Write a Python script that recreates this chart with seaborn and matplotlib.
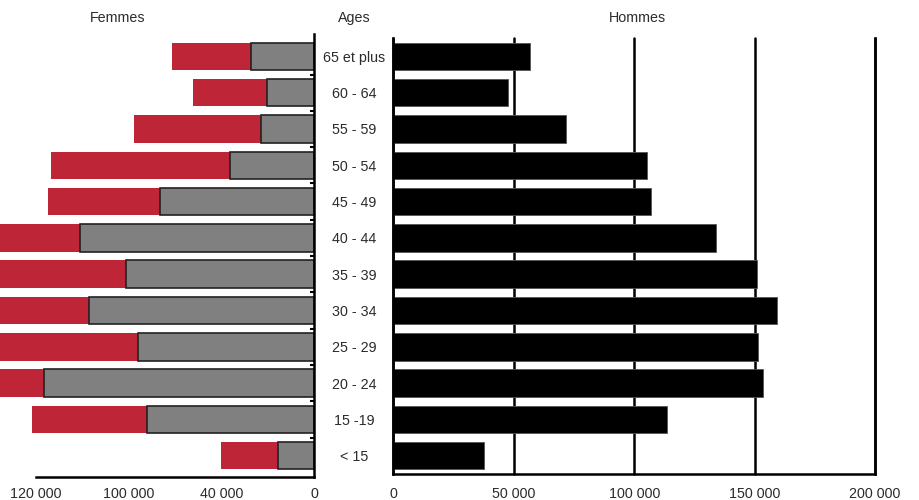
import matplotlib
matplotlib.use("Agg")
import matplotlib.pyplot as plt
import seaborn as sns
import pandas as pd
import numpy as np

ages = ["65 et plus", "60 - 64", "55 - 59", "50 - 54", "45 - 49", "40 - 44",
        "35 - 39", "30 - 34", "25 - 29", "20 - 24", "15 -19", "< 15"]
# Femmes: outer (red) total and inner (gray) part
femmes_total = [61100, 52000, 77600, 113400, 114700, 150000,
                145000, 148000, 146000, 140000, 121600, 40100]
femmes_part = [27000, 20300, 22700, 36200, 66400, 100900,
               81200, 97000, 76000, 116400, 71800, 15400]
hommes = [56700, 47500, 71500, 105300, 107000, 134100,
          151100, 159500, 151500, 153400, 113400, 37700]

fem_ticks = [0, 20000, 40000, 60000, 80000, 100000, 120000]
fem_ticklabels = ["0", "", "40 000", "", "100 000", "", "120 000"]
hom_ticks = [0, 50000, 100000, 150000, 200000]
hom_ticklabels = ["0", "50 000", "100 000", "150 000", "200 000"]

df = pd.DataFrame({"age": ages, "ftot": femmes_total, "fpart": femmes_part, "h": hommes})

sns.set_style("white")
plt.rcParams["font.family"] = ["Liberation Sans", "DejaVu Sans"]
TXT = "#2b2b2b"

W, H = 920, 500
fig = plt.figure(figsize=(W / 100, H / 100), dpi=100)

RED = "#BE2637"
GRAY = "#808080"

# ---------- Left (Femmes) ----------
l_top, l_bot = 34, 476.5
axL = fig.add_axes([0, (H - l_bot) / H, 314 / W, (l_bot - l_top) / H])
sns.barplot(data=df, y="age", x="ftot", order=ages, orient="h", color=RED,
            width=0.76, saturation=1, linewidth=0, ax=axL)
sns.barplot(data=df, y="age", x="fpart", order=ages, orient="h", color=GRAY,
            width=0.76, saturation=1, edgecolor="#222222", linewidth=1.2, ax=axL)
px_per = 46.4 / 20000
axL.set_xlim(314 / px_per, 0)
slot = 36.3
c0 = 56.4
axL.set_ylim(11 + (l_bot - (c0 + 11 * slot)) / slot, -(c0 - l_top) / slot)
for s in ["top", "left"]:
    axL.spines[s].set_visible(False)
axL.spines["right"].set_visible(True)
axL.spines["bottom"].set_bounds(0, 120000)
for s in ["right", "bottom"]:
    axL.spines[s].set_color("black")
    axL.spines[s].set_linewidth(1.8)
axL.yaxis.tick_right()
axL.set_yticks([])
axL.set_yticks(np.arange(0.5, 11, 1), minor=True)
axL.tick_params(axis="y", which="minor", direction="in", length=3, width=1.5, color="black")
axL.set_xticks(fem_ticks)
axL.set_xticklabels(fem_ticklabels)
axL.tick_params(axis="x", direction="in", length=9, width=1.6, color="black",
                pad=7.5, labelsize=10.3, labelcolor=TXT)
axL.set_xlabel("")
axL.set_ylabel("")

# ---------- Right (Hommes) ----------
r_top, r_bot = 38, 474
x0, x1 = 393.5, 875
axR = fig.add_axes([x0 / W, (H - r_bot) / H, (x1 - x0) / W, (r_bot - r_top) / H])
axR.set_axisbelow(True)
axR.grid(axis="x", color="black", linewidth=1.8)
axR.grid(axis="y", visible=False)
sns.barplot(data=df, y="age", x="h", order=ages, orient="h", color="black",
            width=0.76, saturation=1, edgecolor="#555555", linewidth=0.6, ax=axR)
axR.set_xlim(0, 200000)
axR.set_ylim(11 + (r_bot - (c0 + 11 * slot)) / slot, -(c0 - r_top) / slot)
for s in ["top"]:
    axR.spines[s].set_visible(False)
for s in ["left", "bottom", "right"]:
    axR.spines[s].set_color("black")
    axR.spines[s].set_linewidth(1.8)
axR.set_xticks(hom_ticks)
axR.set_xticklabels(hom_ticklabels)
for gl in axR.get_xgridlines():
    gl.set_clip_on(False)
axR.tick_params(axis="x", length=0, pad=9, labelsize=10.3, labelcolor=TXT)
axR.set_yticks(range(len(ages)))
axR.set_yticklabels(ages, ha="center")
axR.tick_params(axis="y", length=0, pad=28.4, labelsize=10.3, labelcolor=TXT)
axR.set_xlabel("")
axR.set_ylabel("")

fig.text(118 / W, 1 - 18 / H, "Femmes", ha="center", va="center", fontsize=10.3, color=TXT)
fig.text(354 / W, 1 - 18 / H, "Ages", ha="center", va="center", fontsize=10.3, color=TXT)
fig.text(637 / W, 1 - 18 / H, "Hommes", ha="center", va="center", fontsize=10.3, color=TXT)

fig.savefig("out.png", dpi=100)
